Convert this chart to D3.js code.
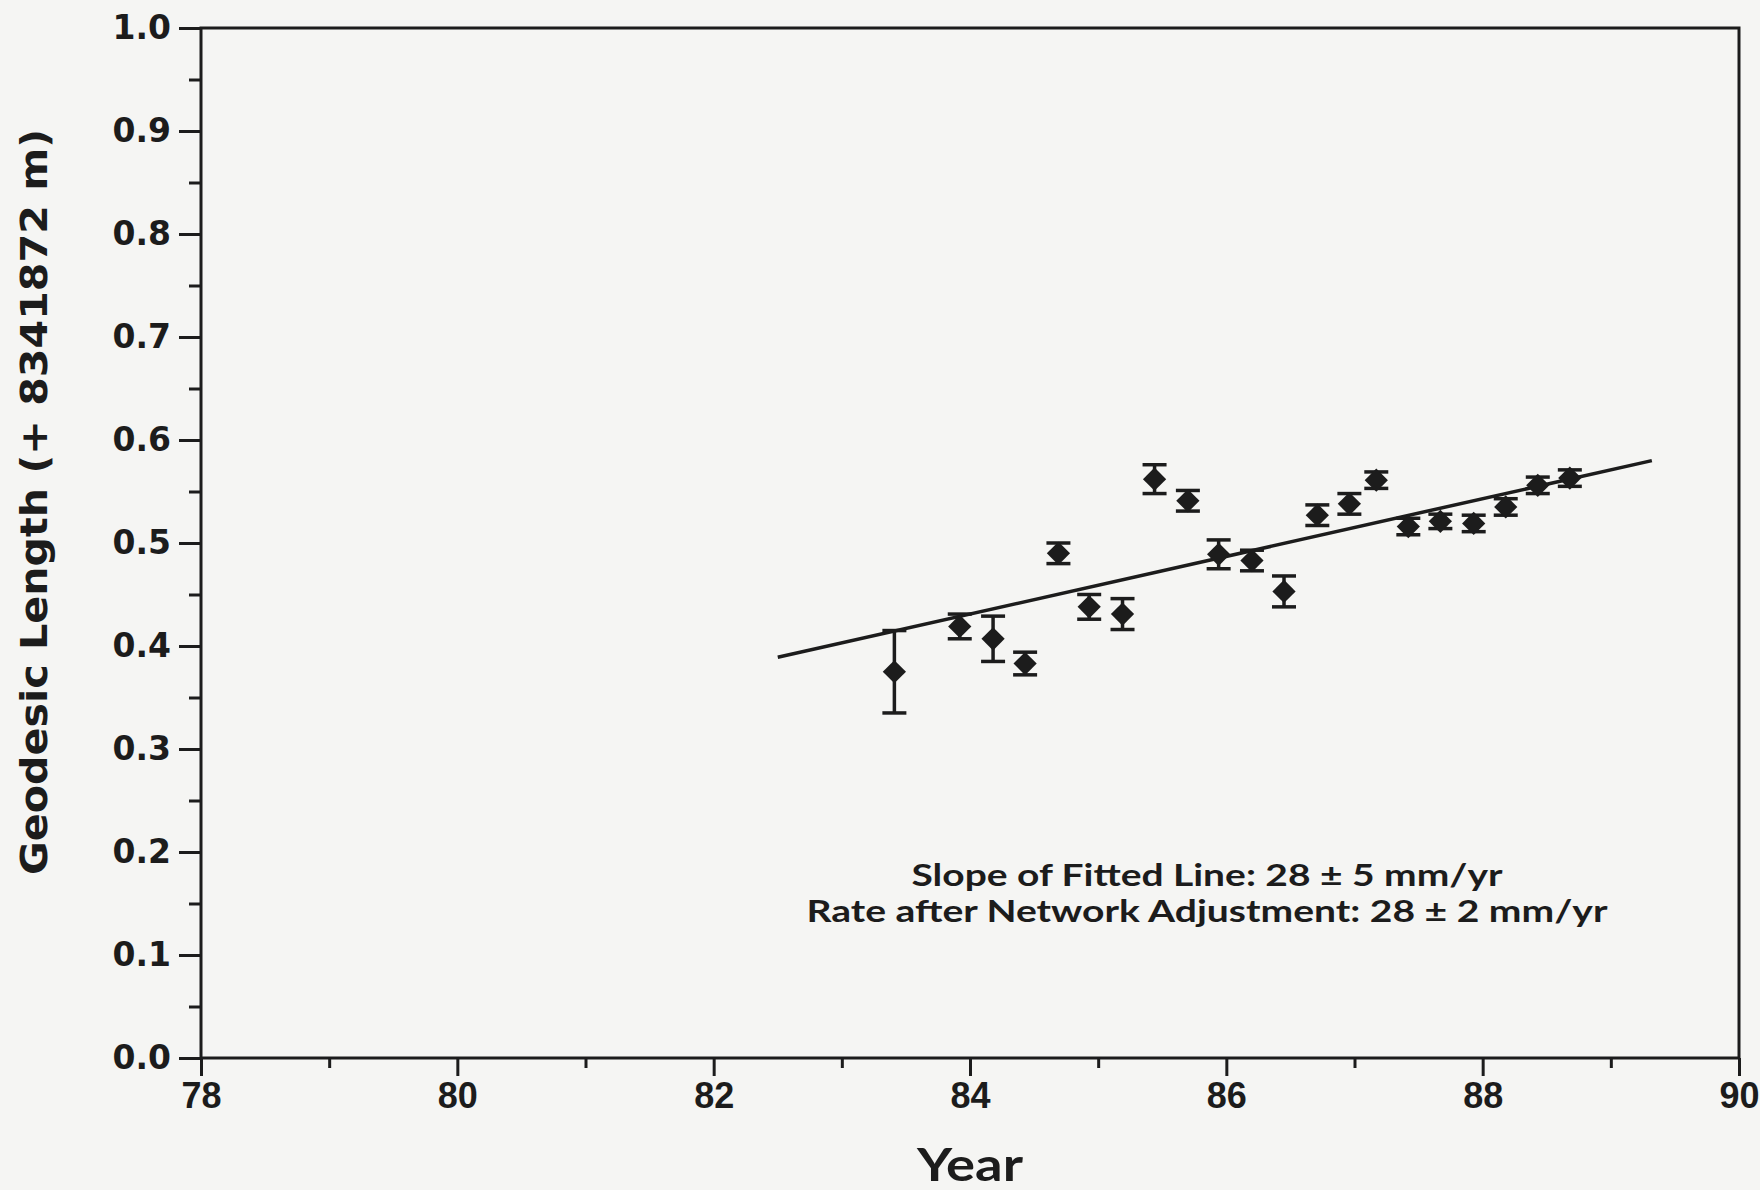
<!DOCTYPE html>
<html>
<head>
<meta charset="utf-8">
<script src="https://cdn.jsdelivr.net/npm/d3@7"></script>
<style>
  body { margin: 0; background: #f5f5f3; }
  svg { display: block; }
</style>
</head>
<body>
<svg width="1760" height="1190"></svg>
<script>
// survey epochs (decimal year, 19xx)
var years = [83.41, 83.92, 84.18, 84.43, 84.69, 84.93, 85.19, 85.44, 85.70, 85.94, 86.20,
             86.45, 86.71, 86.96, 87.17, 87.42, 87.67, 87.93, 88.18, 88.43, 88.68];
// geodesic length minus 8341872 m
var lengths = [0.375, 0.419, 0.407, 0.383, 0.490, 0.438, 0.431, 0.562, 0.541, 0.489, 0.483,
               0.453, 0.527, 0.538, 0.561, 0.516, 0.521, 0.519, 0.535, 0.556, 0.563];
var errors = [0.040, 0.012, 0.022, 0.011, 0.010, 0.012, 0.015, 0.014, 0.010, 0.014, 0.010,
              0.015, 0.010, 0.010, 0.008, 0.008, 0.007, 0.008, 0.008, 0.008, 0.008];

// fitted line end points
var fitYears = [82.5, 89.32];
var fitValues = [0.389, 0.580];

var xMajor = [78, 80, 82, 84, 86, 88, 90];
var xMinor = [79, 81, 83, 85, 87, 89];
var yMajor = [0, 0.1, 0.2, 0.3, 0.4, 0.5, 0.6, 0.7, 0.8, 0.9, 1.0];
var yMinor = [0.05, 0.15, 0.25, 0.35, 0.45, 0.55, 0.65, 0.75, 0.85, 0.95];

var notes = ["Slope of Fitted Line: 28 \u00b1 5 mm/yr",
             "Rate after Network Adjustment: 28 \u00b1 2 mm/yr"];

var ink = "#1c1c1c";
var svg = d3.select("svg");

var x = d3.scaleLinear().domain([78, 90]).range([201, 1739]),
    y = d3.scaleLinear().domain([0, 1]).range([1058, 28]);

var data = years.map(function(d, i) {
  return {year: d, value: lengths[i], err: errors[i]};
});

// frame
svg.append("rect")
    .attr("x", x(78)).attr("y", y(1))
    .attr("width", x(90) - x(78)).attr("height", y(0) - y(1))
    .attr("fill", "none").attr("stroke", ink).attr("stroke-width", 3);

function styleAxis(g, font, size) {
  g.selectAll(".domain").remove();
  g.selectAll(".tick line").attr("stroke", ink).attr("stroke-width", 3);
  g.selectAll("text")
      .attr("fill", ink)
      .style("font-family", font)
      .style("font-weight", "bold")
      .style("font-size", size + "px");
}

var yFont = "'DejaVu Sans', sans-serif",
    xFont = "'Liberation Sans', Arial, sans-serif";

svg.append("g")
    .attr("transform", "translate(" + x(78) + ",0)")
    .call(d3.axisLeft(y).tickValues(yMajor).tickSize(22).tickPadding(8).tickFormat(d3.format(".1f")))
    .call(styleAxis, yFont, 33);
svg.append("g")
    .attr("transform", "translate(" + x(78) + ",0)")
    .call(d3.axisLeft(y).tickValues(yMinor).tickSize(12).tickFormat(""))
    .call(styleAxis, yFont, 33);

svg.append("g")
    .attr("transform", "translate(0," + y(0) + ")")
    .call(d3.axisBottom(x).tickValues(xMajor).tickSize(18).tickPadding(6).tickFormat(d3.format("d")))
    .call(styleAxis, xFont, 36);
svg.append("g")
    .attr("transform", "translate(0," + y(0) + ")")
    .call(d3.axisBottom(x).tickValues(xMinor).tickSize(10).tickFormat(""))
    .call(styleAxis, xFont, 36);

// fitted line
svg.append("line")
    .attr("x1", x(fitYears[0])).attr("y1", y(fitValues[0]))
    .attr("x2", x(fitYears[1])).attr("y2", y(fitValues[1]))
    .attr("stroke", ink).attr("stroke-width", 3.5);

// error bars
var bars = svg.append("g").attr("stroke", ink).attr("stroke-width", 3.5);
data.forEach(function(d) {
  var cx = x(d.year);
  bars.append("line").attr("x1", cx).attr("x2", cx)
      .attr("y1", y(d.value + d.err)).attr("y2", y(d.value - d.err));
  bars.append("line").attr("x1", cx - 12).attr("x2", cx + 12)
      .attr("y1", y(d.value + d.err)).attr("y2", y(d.value + d.err));
  bars.append("line").attr("x1", cx - 12).attr("x2", cx + 12)
      .attr("y1", y(d.value - d.err)).attr("y2", y(d.value - d.err));
});

// diamonds
svg.append("g").selectAll("path")
  .data(data)
  .enter().append("path")
    .attr("d", d3.symbol(d3.symbolSquare, 270))
    .attr("transform", function(d) {
      return "translate(" + x(d.year) + "," + y(d.value) + ") rotate(45)";
    })
    .attr("fill", ink);

var titleFont = "Lato, 'DejaVu Sans', sans-serif";

// axis titles
svg.append("text")
    .attr("transform", "translate(47," + 502 + ") rotate(-90)")
    .attr("text-anchor", "middle")
    .attr("textLength", 746).attr("lengthAdjust", "spacingAndGlyphs")
    .style("font-family", "'DejaVu Sans', sans-serif").style("font-weight", "bold").style("font-size", "38px")
    .attr("fill", ink)
    .text("Geodesic Length (+ 8341872 m)");

svg.append("text")
    .attr("x", 970).attr("y", 1181)
    .attr("text-anchor", "middle")
    .attr("textLength", 106).attr("lengthAdjust", "spacingAndGlyphs")
    .style("font-family", titleFont).style("font-weight", "bold").style("font-size", "46px")
    .attr("fill", ink)
    .text("Year");

// annotation, one text block with two lines
var noteWidths = [591, 801];
var note = svg.append("text")
    .attr("text-anchor", "middle")
    .style("font-family", titleFont).style("font-weight", "bold").style("font-size", "30px")
    .attr("fill", ink);
notes.forEach(function(t, i) {
  note.append("tspan")
      .attr("x", 1207).attr("y", 886 + i * 36)
      .attr("textLength", noteWidths[i]).attr("lengthAdjust", "spacingAndGlyphs")
      .text(t);
});
</script>
</body>
</html>
